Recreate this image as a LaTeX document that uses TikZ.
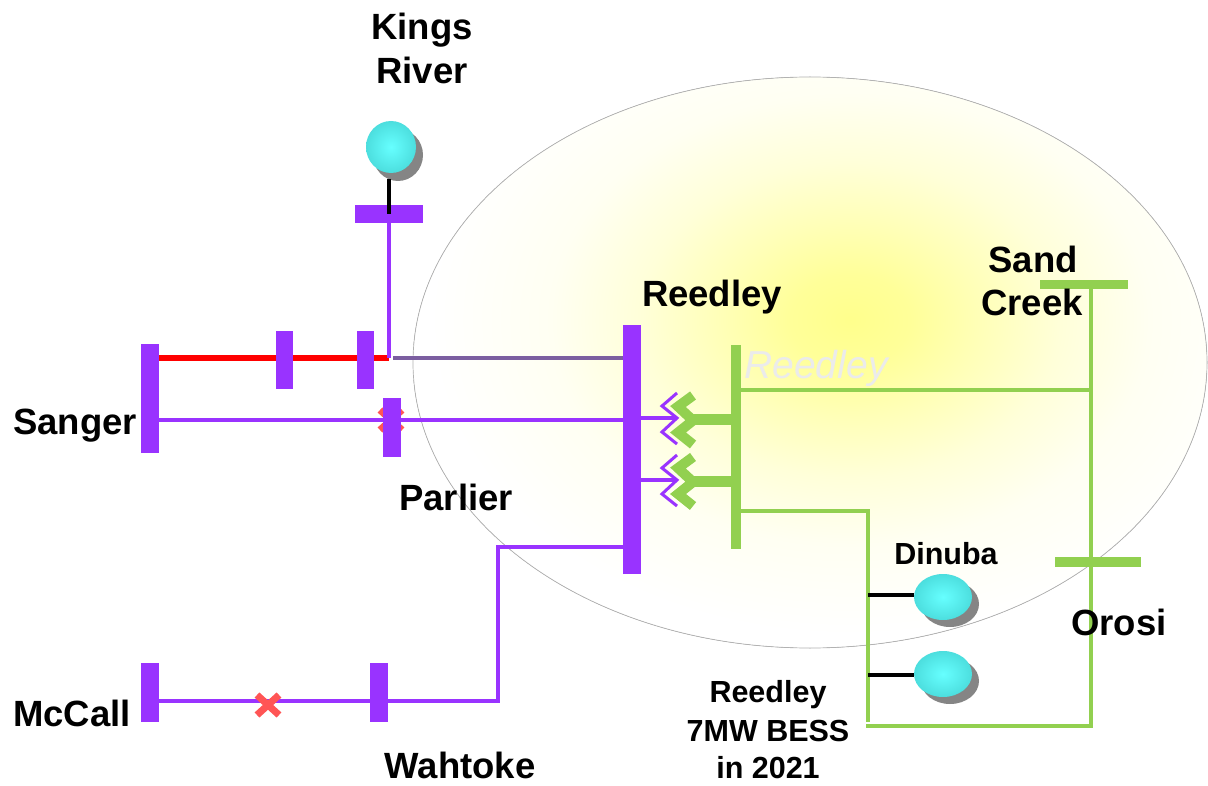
\documentclass[tikz,border=0pt]{standalone}
\usepackage{fontspec}
\setmainfont{Liberation Sans}
\usetikzlibrary{shapes.misc,shapes.geometric,backgrounds}
\definecolor{pur}{HTML}{9933FF}
\definecolor{grn}{HTML}{92D050}
\definecolor{rd}{HTML}{FF0000}
\definecolor{xred}{HTML}{FF5555}
\definecolor{dull}{HTML}{7B5EA0}
\definecolor{shad}{HTML}{858585}
\definecolor{tealA}{HTML}{66FFFF}
\definecolor{tealB}{HTML}{4CDEDE}
\pgfdeclareradialshading{glow}{\pgfpoint{0bp}{0bp}}{
  rgb(0bp)=(1,1,0.55);
  rgb(2.5bp)=(1,1,0.6);
  rgb(5.4bp)=(1,1,0.72);
  rgb(8.75bp)=(1,1,0.85);
  rgb(12.5bp)=(1,1,0.95);
  rgb(17.5bp)=(1,1,1);
  rgb(50bp)=(1,1,1)}
\pgfdeclarelayer{back}
\pgfdeclarelayer{wires}
\pgfdeclarelayer{front}
\pgfsetlayers{back,wires,main,front}
\tikzset{
  pbus/.style={fill=pur,inner sep=0pt,outer sep=0pt,rectangle},
  vbus/.style={fill=grn,inner sep=0pt,outer sep=0pt,rectangle},
  lbl/.style={anchor=base,font=\fontsize{36.5}{36.5}\selectfont\bfseries,inner sep=0pt,text=black},
  smalllbl/.style={anchor=base,font=\fontsize{30.5}{30.5}\selectfont\bfseries,inner sep=0pt,text=black},
  purline/.style={draw=pur,line width=3.2pt},
  grnline/.style={draw=grn,line width=3.2pt,line cap=rect},
  blk/.style={draw=black,line width=3.2pt},
  xmark/.style={cross out,draw=xred,line width=7pt,minimum width=22pt,minimum height=20pt,inner sep=0pt,outer sep=0pt},
  gen/.style={ellipse,inner sep=0pt,outer sep=0pt,inner color=tealA,outer color=tealB},
  shadowshape/.style={ellipse,inner sep=0pt,outer sep=0pt,fill=shad},
  chevp/.style={draw=pur,line width=3pt,fill=none,line join=miter},
  chevg/.style={draw=grn,line width=10pt,fill=none,line join=miter},
}
\begin{document}
\begin{tikzpicture}[x=1pt,y=-1pt]
\useasboundingbox (0,0) rectangle (1208,786);
% service territory
\begin{pgfonlayer}{back}
  \fill[white] (0,0) rectangle (1208,786);
  \begin{scope}
    \clip (810,362.5) ellipse (397 and 285.5);
    \fill[shading=glow] (850,320) ellipse (600 and 450);
  \end{scope}
  \draw[draw=black!30,line width=0.7pt] (810,362.5) ellipse (397 and 285.5);
\end{pgfonlayer}
\node[anchor=base,inner sep=0pt,text=black!8,font=\fontsize{39}{39}\selectfont\itshape] (faint) at (816,378) {Reedley};

% crosses behind buses
\node[xmark] (xpar) at (391,420) {};
\node[xmark] (xmc) at (268,705) {};

% buses
\node[pbus,minimum width=18pt,minimum height=109pt] (sanger) at (150,398.5) {};
\node[pbus,minimum width=17pt,minimum height=58pt] (b1) at (284.5,360) {};
\node[pbus,minimum width=17pt,minimum height=58pt] (b2) at (365.5,360) {};
\node[pbus,minimum width=18pt,minimum height=59pt] (parlier) at (392,427.5) {};
\node[pbus,minimum width=68pt,minimum height=18pt] (kings) at (389,214) {};
\node[pbus,minimum width=18pt,minimum height=249pt] (reedley) at (632,449.5) {};
\node[pbus,minimum width=18pt,minimum height=59pt] (mccall) at (150,692.5) {};
\node[pbus,minimum width=18pt,minimum height=59pt] (wahtoke) at (379,692.5) {};
\node[vbus,minimum width=10pt,minimum height=204pt] (greenbus) at (736,447) {};
\node[vbus,minimum width=88pt,minimum height=9pt] (sand) at (1084,285) {};
\node[vbus,minimum width=86pt,minimum height=10pt] (orosi) at (1098,562) {};

% generators
\node[shadowshape,minimum width=50pt,minimum height=52pt] (kgS) at (398,155) {};
\node[gen,minimum width=50pt,minimum height=52pt] (kg) at (391,147) {};
\node[shadowshape,minimum width=58pt,minimum height=46pt] (g1S) at (950,604) {};
\node[gen,minimum width=58pt,minimum height=46pt] (g1) at (943,597) {};
\node[shadowshape,minimum width=58pt,minimum height=46pt] (g2S) at (950,681) {};
\node[gen,minimum width=58pt,minimum height=46pt] (g2) at (943,674) {};

% level helpers
\coordinate (yRed) at (0,358);
\coordinate (ySan) at (0,420);
\coordinate (yF1) at (0,418);
\coordinate (yF2) at (0,480);
\coordinate (yG1) at (0,419.5);
\coordinate (yG2) at (0,481);
\coordinate (yTop) at (0,390);
\coordinate (yDin) at (0,511);
\coordinate (yWah) at (0,547);
\coordinate (yMc) at (0,701);
\coordinate (kr) at (389,358);
\coordinate (dull0) at (393,358);
\coordinate (c1) at (498,547);
\coordinate (c2) at (498,701);
\coordinate (j1) at (1091,390);
\coordinate (j2) at (1091,726);
\coordinate (j3) at (868,726);
\coordinate (k1) at (868,511);
\coordinate (k2) at (868,720);
\coordinate (k3) at (868,595);
\coordinate (k4) at (868,675);
\coordinate (tipA) at (677,418);
\coordinate (tipB) at (677,480);
\coordinate (gA) at (690,419.5);
\coordinate (gB) at (690,481);

% connectors
\begin{pgfonlayer}{wires}
  \draw[rd,line width=6pt] (sanger |- yRed) -- (kr);
  \draw[purline] (kings) -- (kr);
  \draw[draw=dull,line width=3.5pt] (dull0) -- (reedley |- yRed);
  \draw[purline] (sanger |- ySan) -- (reedley |- ySan);
  \draw[purline] (reedley |- yWah) -- (c1) -- (c2) -- (mccall |- yMc);
  \draw[purline] (reedley |- yF1) -- (tipA);
  \draw[purline] (reedley |- yF2) -- (tipB);
  \draw[grn,line width=11pt] (gA) -- (greenbus |- yG1);
  \draw[grn,line width=11pt] (gB) -- (greenbus |- yG2);
  \draw[grnline] (greenbus |- yTop) -- (j1);
  \draw[grnline] (sand.center -| j1) -- (j2) -- (j3);
  \draw[grnline] (greenbus |- yDin) -- (k1) -- (k2);
  \draw[blk] (k3) -- (g1.west |- k3);
  \draw[blk] (k4) -- (g2.west |- k4);
  \foreach \nm in {A,B}{
    \draw[chevg] ([yshift=24pt]g\nm) ++(3,0) -- ++(-15,11) -- ++(15,14) -- ++(-15,12) -- ++(15,12);
    \draw[chevp] ([yshift=25pt]tip\nm) -- ++(-15,13) -- ++(15,12) -- ++(-15,14) -- ++(15,12);
  }
\end{pgfonlayer}
\begin{pgfonlayer}{front}
  \draw[blk] (kg.south) ++(-2,6) coordinate (kgb) -- (kings.center);
\end{pgfonlayer}

% labels
\node[lbl] (t1) at (422,40) {Kings};
\node[lbl] (t2) at (422,84) {River};
\node[lbl] (t3) at (712,307) {Reedley};
\node[lbl] (t4) at (1033,273) {Sand};
\node[lbl] (t5) at (1032,316) {Creek};
\node[lbl] (t6) at (75,434) {Sanger};
\node[lbl] (t7) at (456,510) {Parlier};
\node[smalllbl] (t8) at (946,564) {Dinuba};
\node[lbl] (t9) at (1119,635) {Orosi};
\node[lbl] (t10) at (72,726) {McCall};
\node[lbl] (t11) at (460,778) {Wahtoke};
\node[smalllbl] (t12) at (768,702) {Reedley};
\node[smalllbl] (t13) at (768,741) {7MW BESS};
\node[smalllbl] (t14) at (768,778) {in 2021};
\end{tikzpicture}
\end{document}
